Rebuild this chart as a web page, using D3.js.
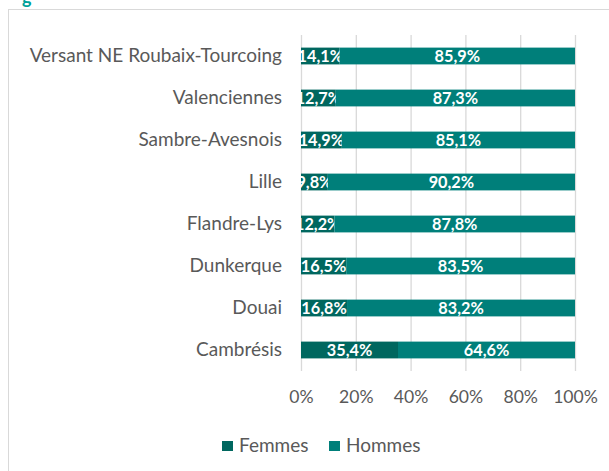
<!DOCTYPE html>
<html>
<head>
<meta charset="utf-8">
<script src="https://cdn.jsdelivr.net/npm/d3@7"></script>
<style>
  html, body { margin: 0; padding: 0; background: #fff; }
  svg { display: block; font-family: Lato, "Open Sans", sans-serif; }
</style>
</head>
<body>
<div id="chart"></div>
<script>
// Répartition femmes / hommes par territoire
const categories = ["Versant NE Roubaix-Tourcoing", "Valenciennes", "Sambre-Avesnois", "Lille",
                    "Flandre-Lys", "Dunkerque", "Douai", "Cambrésis"];
const femmes = [14.1, 12.7, 14.9, 9.8, 12.2, 16.5, 16.8, 35.4];
const hommes = [85.9, 87.3, 85.1, 90.2, 87.8, 83.5, 83.2, 64.6];
const seriesNames = ["Femmes", "Hommes"];
const xTicks = [0, 20, 40, 60, 80, 100];

const width = 609, height = 471;
const colors = { Femmes: "#00675f", Hommes: "#007f7a" };
const textColor = "#595959";
const fmt = v => v.toFixed(1).replace(".", ",") + "%";

const svg = d3.select("#chart").append("svg")
    .attr("width", width)
    .attr("height", height);

// chart area frame (title sits above, cut off)
svg.append("text")
    .attr("x", 22).attr("y", 4)
    .attr("fill", "#00a19a")
    .attr("font-size", 18)
    .attr("font-weight", "bold")
    .text("g");
svg.append("rect")
    .attr("x", 8.5).attr("y", 9.5)
    .attr("width", width + 10).attr("height", height)
    .attr("fill", "#fff")
    .attr("stroke", "#d9d9d9");

const x = d3.scaleLinear().domain([0, 100]).range([301, 575]);
const y = d3.scaleBand().domain(categories).range([35, 371]).paddingInner(0.6).paddingOuter(0.3);

// gridlines
svg.append("g")
    .attr("transform", "translate(0,35)")
    .call(d3.axisBottom(x).tickValues(xTicks).tickSize(336).tickFormat(""))
    .call(g => g.select(".domain").remove())
    .call(g => g.selectAll("line").attr("stroke", "#d9d9d9").attr("stroke-width", 1.3));

// stacked bars
const rows = categories.map((c, i) => ({ cat: c, Femmes: femmes[i], Hommes: hommes[i] }));
const stacked = d3.stack().keys(seriesNames)(rows);

const layers = svg.append("g").selectAll("g")
    .data(stacked)
    .join("g")
    .attr("fill", d => colors[d.key]);

layers.selectAll("rect")
    .data(d => d)
    .join("rect")
    .attr("x", d => x(d[0]))
    .attr("y", d => y(d.data.cat))
    .attr("width", d => x(d[1]) - x(d[0]))
    .attr("height", y.bandwidth());

// data labels
layers.selectAll("text")
    .data(d => d.map(v => Object.assign({ key: d.key }, v)))
    .join("text")
    .attr("x", d => (x(d[0]) + x(d[1])) / 2)
    .attr("y", d => y(d.data.cat) + y.bandwidth() / 2)
    .attr("dy", "0.36em")
    .attr("text-anchor", "middle")
    .attr("fill", "#fff")
    .attr("font-weight", "bold")
    .attr("font-size", 16.3)
    .text(d => fmt(d.data[d.key]));

// category axis
svg.append("g")
    .attr("transform", "translate(301,0)")
    .call(d3.axisLeft(y).tickSize(0).tickPadding(19))
    .call(g => g.select(".domain").remove())
    .call(g => g.selectAll("text")
        .attr("fill", textColor)
        .attr("font-size", 19)
        .attr("font-family", "Lato, 'Open Sans', sans-serif"));

// value axis
svg.append("g")
    .attr("transform", "translate(0,371)")
    .call(d3.axisBottom(x).tickValues(xTicks).tickSize(0).tickPadding(20).tickFormat(d => d + "%"))
    .call(g => g.select(".domain").remove())
    .call(g => g.selectAll("text")
        .attr("fill", textColor)
        .attr("font-size", 17.6)
        .attr("font-family", "Lato, 'Open Sans', sans-serif"));

// legend
const legend = svg.append("g").attr("transform", "translate(222,446)");
const legendX = [0, 107];
seriesNames.forEach((name, i) => {
    const item = legend.append("g").attr("transform", `translate(${legendX[i]},0)`);
    item.append("rect")
        .attr("x", 0).attr("y", -5)
        .attr("width", 11).attr("height", 10)
        .attr("fill", colors[name]);
    item.append("text")
        .attr("x", 17).attr("y", 0)
        .attr("dy", "0.34em")
        .attr("fill", textColor)
        .attr("font-size", 19)
        .text(name);
});
</script>
</body>
</html>
